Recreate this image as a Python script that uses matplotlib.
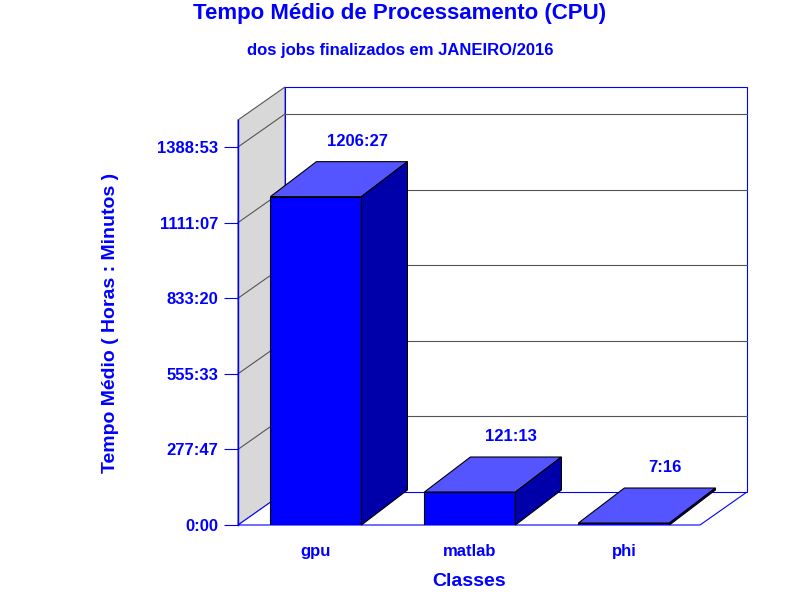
import matplotlib
matplotlib.use("Agg")
import matplotlib.pyplot as plt
from matplotlib.patches import Polygon

categories = ["gpu", "matlab", "phi"]
values_min = [72387, 7273, 436]          # minutes
value_labels = ["1206:27", "121:13", "7:16"]
tick_vals = [0, 16667, 33333, 50000, 66667, 83333]
tick_labels = ["0:00", "277:47", "555:33", "833:20", "1111:07", "1388:53"]

plt.rcParams['font.family'] = ['Liberation Sans', 'DejaVu Sans']
BLUE = "#0000ff"
fig = plt.figure(figsize=(8, 6), dpi=100)
ax = fig.add_axes([238/800, 75/600, 462/800, 405/600])
ymax = 89285
xmin, xmax = -0.506, 2.494
ax.set_xlim(xmin, xmax); ax.set_ylim(0, ymax)
pxx = 1/154.0; pxy = ymax/405.0
for s in ax.spines.values(): s.set_visible(False)

# walls
wdx, wdy = 47*pxx, 33*pxy
ax.add_patch(Polygon([(xmin, 0), (xmin+wdx, wdy), (xmin+wdx, ymax+wdy), (xmin, ymax)],
                     closed=True, fc="#d8d8d8", ec="#555555", lw=0.8, clip_on=False, zorder=0))
ax.add_patch(Polygon([(xmin, 0), (xmax, 0), (xmax+wdx, wdy), (xmin+wdx, wdy)],
                     closed=True, fc="white", ec=BLUE, lw=0.8, clip_on=False, zorder=0))
ax.add_patch(Polygon([(xmin+wdx, wdy), (xmax+wdx, wdy), (xmax+wdx, ymax+wdy), (xmin+wdx, ymax+wdy)],
                     closed=True, fc="white", ec=BLUE, lw=0.8, clip_on=False, zorder=0))
for t in tick_vals[1:]:
    ax.plot([xmin+wdx, xmax+wdx], [t+wdy, t+wdy], color="#555555", lw=0.8, clip_on=False, zorder=1)
    ax.plot([xmin, xmin+wdx], [t, t+wdy], color="#555555", lw=0.8, clip_on=False, zorder=1)
ax.plot([xmin, xmin], [0, ymax], color=BLUE, lw=1, clip_on=False)

# bars
w = 91*pxx
bdx, bdy = 46*pxx, 35*pxy
for i, v in enumerate(values_min):
    x0, x1 = i - w/2, i + w/2
    ax.bar(i, v, width=w, color=BLUE, edgecolor="black", lw=0.8, zorder=3)
    ax.add_patch(Polygon([(x0, v), (x1, v), (x1+bdx, v+bdy), (x0+bdx, v+bdy)], closed=True,
                         fc="#5555ff", ec="black", lw=0.8, zorder=3, clip_on=False))
    ax.add_patch(Polygon([(x1, 0), (x1+bdx, bdy), (x1+bdx, v+bdy), (x1, v)], closed=True,
                         fc="#0000aa", ec="black", lw=0.8, zorder=3, clip_on=False))
    ax.text(i+bdx/2+0.12, v+bdy+13*pxy, value_labels[i], ha="center", va="bottom",
            color=BLUE, fontsize=12, fontweight="bold")

ax.set_xticks(range(len(categories)))
ax.set_xticklabels(categories, fontsize=12, fontweight="bold", color=BLUE)
ax.tick_params(axis='x', length=0, pad=14)
ax.set_yticks(tick_vals)
ax.set_yticklabels(tick_labels, fontsize=12, fontweight="bold", color=BLUE)
ax.tick_params(axis='y', length=10, color=BLUE, pad=4)
ax.set_xlabel("Classes", fontsize=14, fontweight="bold", color=BLUE, labelpad=10)
ax.set_ylabel("Tempo Médio ( Horas : Minutos )", fontsize=14, fontweight="bold", color=BLUE, labelpad=28)
fig.text(0.5, 1-13/600, "Tempo Médio de Processamento (CPU)", ha="center", va="center",
         fontsize=16, fontweight="bold", color=BLUE)
fig.text(0.5, 1-50/600, "dos jobs finalizados em JANEIRO/2016", ha="center", va="center",
         fontsize=12, fontweight="bold", color=BLUE)
fig.savefig("out.png", dpi=100)
